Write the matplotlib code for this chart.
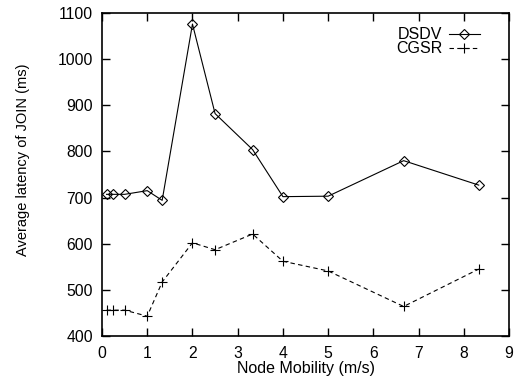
import matplotlib
matplotlib.use("Agg")
import matplotlib.pyplot as plt

plt.rcParams["font.family"] = ["Liberation Sans", "DejaVu Sans"]

# node mobility (m/s)
mobility = [0.1, 0.25, 0.5, 1.0, 1.33, 2.0, 2.5, 3.33, 4.0, 5.0, 6.67, 8.33]

# average latency of JOIN (ms)
dsdv = [707, 707, 707, 715, 694, 1076, 882, 804, 702, 703, 780, 727]
cgsr = [456, 456, 456, 443, 517, 602, 587, 621, 562, 541, 464, 545]

xticks = list(range(0, 10))
yticks = list(range(400, 1101, 100))

fig = plt.figure(figsize=(5.24, 3.81), dpi=100)
ax = fig.add_axes([0.1947, 0.1181, 0.7767, 0.8478])

ax.plot(mobility, dsdv, color="black", linewidth=0.8, marker="D",
        markersize=5.5, markerfacecolor="none", markeredgecolor="black",
        markeredgewidth=0.8, label="DSDV")
ax.plot(mobility, cgsr, color="black", linewidth=0.8, marker="+",
        markersize=7, markeredgewidth=0.8, linestyle=(0, (4, 3)),
        label="CGSR")

ax.set_xlim(0, 9)
ax.set_ylim(400, 1100)
ax.set_xticks(xticks)
ax.set_yticks(yticks)
ax.tick_params(direction="in", length=6, width=1, top=True, right=True,
               labelsize=11.3)
ax.tick_params(axis="x", pad=7.5)
ax.tick_params(axis="y", pad=6.5)
for s in ax.spines.values():
    s.set_linewidth(1.2)

ax.set_xlabel("Node Mobility (m/s)", fontsize=11.5, labelpad=0)
ax.set_ylabel("Average latency of JOIN (ms)", fontsize=10.5)
ax.yaxis.set_label_coords(-0.178, 0.545)

ax.legend(loc="upper right", bbox_to_anchor=(0.9435, 0.9760),
          frameon=False, markerfirst=False, fontsize=11.5,
          handlelength=1.9, handletextpad=0.45, labelspacing=-0.05,
          borderaxespad=0.0)

fig.savefig("out.png", dpi=100)
